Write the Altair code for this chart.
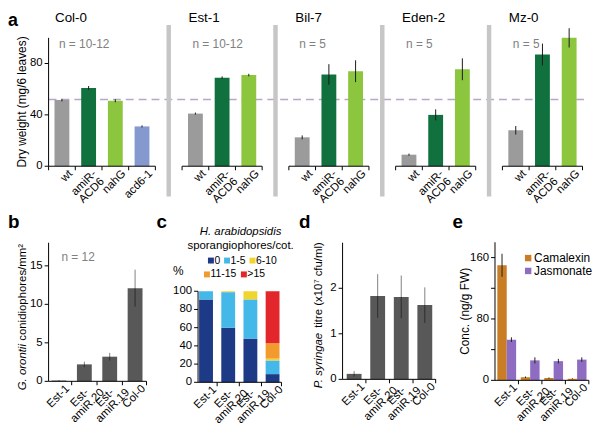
import altair as alt
import pandas as pd
import numpy as np

FONT = "Liberation Sans"

# ----------------------------------------------------------------- data
a_groups = ["Col-0", "Est-1", "Bil-7", "Eden-2", "Mz-0"]
a_sample_sizes = ["n = 10-12", "n = 10-12", "n = 5", "n = 5", "n = 5"]
a_genotypes = [
    ["wt", "amiR-ACD6", "nahG", "acd6-1"],
    ["wt", "amiR-ACD6", "nahG"],
    ["wt", "amiR-ACD6", "nahG"],
    ["wt", "amiR-ACD6", "nahG"],
    ["wt", "amiR-ACD6", "nahG"],
]
a_dry_weight = [[51.5, 61, 51, 31], [41, 69, 71], [22.5, 71.5, 74], [9, 40, 75.5], [28, 87, 100]]
a_dry_weight_err = [[1, 1.5, 1.2, 0.8], [0.8, 1, 1], [1.5, 8, 8.5], [0.8, 4.3, 8.5], [3.3, 8.5, 7.5]]
a_reference = 52
a_y_ticks = [0, 40, 80]

lines = ["Est-1", "Est-\namiR.20", "Est-\namiR.19", "Col-0"]

b_conidiophores = [0.1, 2.2, 3.2, 12.1]
b_conidiophores_err = [0.06, 0.35, 0.5, 2.4]
b_y_ticks = [0, 5, 10, 15]
b_n = "n = 12"

c_bins = ["0", "1-5", "6-10", "11-15", ">15"]
c_percent = [[91, 9, 0, 0, 0], [60, 39, 1, 0, 0], [48, 43, 9, 0, 0], [9, 15, 2, 17, 57]]
c_y_ticks = [0, 20, 40, 60, 80, 100]

d_titre = [0.12, 1.83, 1.81, 1.63]
d_titre_err = [0.06, 0.48, 0.47, 0.39]
d_y_ticks = [0, 1, 2]

e_series = ["Camalexin", "Jasmonate"]
e_camalexin = [150, 4, 3, 2]
e_camalexin_err = [15, 1, 0.8, 0.6]
e_jasmonate = [53, 26, 25, 27]
e_jasmonate_err = [3, 4, 3, 3]
e_y_ticks = [0, 40, 80, 120, 160]
e_y_labels = [0, 80, 160]

# ----------------------------------------------------------------- styles
A_COLOR_DOMAIN = ["wt", "amiR-ACD6", "nahG", "acd6-1"]
A_COLORS = ["#9b9b9b", "#10703e", "#8cc63f", "#8599cf"]
C_COLORS = ["#1d3a86", "#45b8ea", "#f2d52c", "#f39a2f", "#e2262b"]
E_COLORS = ["#c97d24", "#8d6cc1"]
DARK_BAR = "#585858"
SEP_GRAY = "#c6c6c6"
NOTE_GRAY = "#808080"
REF_COLOR = "#b9a6cb"


def scale(domain, rng):
    return alt.Scale(domain=domain, range=rng, nice=False, zero=False)


# panel geometry (canvas pixels)
A_X = scale([-0.5, 19.5], [36, 585.4])
A_Y = scale([0, 100], [157.7, 28])
B_X = scale([-0.41, 3.5], [36, 146.2])
B_Y = scale([0, 18], [375, 235])
C_X = scale([-0.36, 3.5], [187, 283.5])
C_Y = scale([0, 100], [376, 284])
D_X = scale([-0.49, 3.5], [333, 438])
D_Y = scale([0, 3], [373, 235])
E_X = scale([-0.5, 3.5], [487, 591.8])
E_Y = scale([0, 180], [374, 234.5])


def X(f, s):
    return alt.X(f, scale=s, axis=None)


def Y(f, s):
    return alt.Y(f, scale=s, axis=None)


def note(text, x, y, **style):
    style.setdefault("color", "black")
    return alt.Chart(pd.DataFrame({"t": [text]})).mark_text(font=FONT, **style).encode(
        x=alt.value(x), y=alt.value(y), text="t:N")


def baseline(x0, x1, xs, ys):
    df = pd.DataFrame({"x0": x0, "x1": x1, "base": 0})
    return alt.Chart(df).mark_rule(color="black", strokeWidth=1).encode(
        x=X("x0:Q", xs), x2="x1:Q", y=Y("base:Q", ys))


def ticks(pos, xs, ys):
    df = pd.DataFrame({"x": pos, "base": 0})
    return alt.Chart(df).mark_tick(orient="vertical", size=4, thickness=1, yOffset=2,
                                   color="black", opacity=1).encode(
        x=X("x:Q", xs), y=Y("base:Q", ys))


def xlabels(df, field, xs, ys):
    multi_mask = df["label"].str.contains("\n")
    single, multi = df[~multi_mask], df[multi_mask]
    out = []
    if len(single):
        out.append(alt.Chart(single).mark_text(
            angle=315, align="right", baseline="middle", font=FONT, fontSize=11.5,
            color="black", xOffset=9, yOffset=6).encode(
            x=X(field, xs), y=Y("base:Q", ys), text="label:N"))
    if len(multi):
        out.append(alt.Chart(multi).mark_text(
            angle=315, align="center", baseline="middle", lineBreak="\n", lineHeight=11,
            font=FONT, fontSize=11.5, color="black", xOffset=-4.5, yOffset=17).encode(
            x=X(field, xs), y=Y("base:Q", ys), text="label:N"))
    return out


def yaxis(tick_values, label_values, x_at, top, xs, ys):
    dom = pd.DataFrame({"x": [x_at], "y0": [0], "y1": [top]})
    tk = pd.DataFrame({"x": x_at, "v": tick_values})
    lb = pd.DataFrame({"x": x_at, "v": label_values, "t": [str(v) for v in label_values]})
    return [
        alt.Chart(dom).mark_rule(color="black", strokeWidth=1).encode(
            x=X("x:Q", xs), y=Y("y0:Q", ys), y2="y1:Q"),
        alt.Chart(tk).mark_tick(orient="horizontal", size=4, thickness=1, xOffset=-2,
                                color="black", opacity=1).encode(
            x=X("x:Q", xs), y=Y("v:Q", ys)),
        alt.Chart(lb).mark_text(align="right", baseline="middle", font=FONT, fontSize=11.5,
                                color="black", xOffset=-6).encode(
            x=X("x:Q", xs), y=Y("v:Q", ys), text="t:N"),
    ]


# ----------------------------------------------------------------- panel a
rows, seps, groups, tick_pos = [], [], [], []
slot = 0
for gi, (g, n, gens, vals, errs) in enumerate(
        zip(a_groups, a_sample_sizes, a_genotypes, a_dry_weight, a_dry_weight_err)):
    if gi:
        seps.append(slot)
        slot += 1
    first = slot
    for gen, v, e in zip(gens, vals, errs):
        rows.append({"genotype": gen, "label": gen.replace("-ACD6", "-\nACD6"), "slot": slot,
                     "value": v, "lo": v - e, "hi": v + e, "base": 0})
        slot += 1
    groups.append({"group": g, "n": n, "first": first, "x0": first - 0.5, "x1": slot - 0.5})
    tick_pos += [first - 0.5 + k for k in range(slot - first + 1)]
a_df = pd.DataFrame(rows)
a_grp = pd.DataFrame(groups)

panel_a = alt.layer(
    alt.Chart(pd.DataFrame({"x0": [-0.5], "x1": [19.7], "y": [a_reference]})).mark_rule(
        color=REF_COLOR, strokeWidth=1.5, strokeDash=[8, 5]).encode(
        x=X("x0:Q", A_X), x2="x1:Q", y=Y("y:Q", A_Y)),
    alt.Chart(a_df).mark_bar(width=15, orient="vertical").encode(
        x=X("slot:Q", A_X), y=Y("value:Q", A_Y), y2="base:Q",
        color=alt.Color("genotype:N", scale=alt.Scale(domain=A_COLOR_DOMAIN, range=A_COLORS),
                        legend=None)),
    alt.Chart(a_df).mark_rule(color="#1a1a1a", strokeWidth=1).encode(
        x=X("slot:Q", A_X), y=Y("lo:Q", A_Y), y2="hi:Q"),
    alt.Chart(pd.DataFrame({"slot": seps, "top": 110, "bottom": -23.5})).mark_rule(
        color=SEP_GRAY, strokeWidth=4.5).encode(
        x=X("slot:Q", A_X), y=Y("top:Q", A_Y), y2="bottom:Q"),
    baseline(a_grp["x0"], a_grp["x1"], A_X, A_Y),
    ticks(tick_pos, A_X, A_Y),
    *xlabels(a_df, "slot:Q", A_X, A_Y),
    *yaxis(a_y_ticks, a_y_ticks, -0.5, 100, A_X, A_Y),
    alt.Chart(a_grp).mark_text(align="left", baseline="middle", font=FONT, fontSize=13.5,
                               color="black", dx=-7).encode(
        x=X("first:Q", A_X), y=alt.value(7.5), text="group:N"),
    alt.Chart(a_grp).mark_text(align="left", baseline="middle", font=FONT, fontSize=12,
                               color=NOTE_GRAY, dx=-3).encode(
        x=X("first:Q", A_X), y=alt.value(34), text="n:N"),
)


# ----------------------------------------------------------------- panels b, d
def simple_panel(values, errs, xs, ys, y_ticks, x0, x1, top):
    df = pd.DataFrame({"idx": range(len(lines)), "label": lines, "value": values,
                       "lo": np.array(values) - np.array(errs),
                       "hi": np.array(values) + np.array(errs), "base": 0})
    return alt.layer(
        alt.Chart(df).mark_bar(width=15, orient="vertical", color=DARK_BAR).encode(
            x=X("idx:Q", xs), y=Y("value:Q", ys), y2="base:Q"),
        alt.Chart(df).mark_rule(color="black", strokeWidth=1, opacity=0.5).encode(
            x=X("idx:Q", xs), y=Y("lo:Q", ys), y2="hi:Q"),
        baseline([x0], [x1], xs, ys),
        ticks([0.5, 1.5, 2.5, x1], xs, ys),
        *xlabels(df, "idx:Q", xs, ys),
        *yaxis(y_ticks, y_ticks, x0, top, xs, ys),
    )


panel_b = simple_panel(b_conidiophores, b_conidiophores_err, B_X, B_Y, b_y_ticks, -0.41, 3.45, 18)
panel_d = simple_panel(d_titre, d_titre_err, D_X, D_Y, d_y_ticks, -0.49, 3.46, 3)

# ----------------------------------------------------------------- panel c
c_rows = []
for i, (lab, pcts) in enumerate(zip(lines, c_percent)):
    acc = 0
    for b, p in zip(c_bins, pcts):
        c_rows.append({"idx": i, "bin": b, "lo": acc, "hi": acc + p})
        acc += p
c_df = pd.DataFrame(c_rows)
c_lab = pd.DataFrame({"idx": range(len(lines)), "label": lines, "base": 0})
c_color = alt.Scale(domain=c_bins, range=C_COLORS)

c_leg = pd.DataFrame({"bin": c_bins,
                      "sx": [205, 221.3, 247, 201, 238.3],
                      "tx": [208.5, 224.8, 250.5, 204.5, 241.8],
                      "yy": [253, 253, 253, 267, 267]})

panel_c = alt.layer(
    alt.Chart(c_df).mark_bar(width=14, orient="vertical").encode(
        x=X("idx:Q", C_X), y=Y("hi:Q", C_Y), y2="lo:Q",
        color=alt.Color("bin:N", scale=c_color, legend=None)),
    baseline([-0.36], [3.4], C_X, C_Y),
    ticks([0.5, 1.5, 2.5, 3.4], C_X, C_Y),
    *xlabels(c_lab, "idx:Q", C_X, C_Y),
    *yaxis(c_y_ticks, c_y_ticks, -0.36, 100, C_X, C_Y),
    alt.Chart(c_leg).mark_square(size=36, opacity=1).encode(
        x=alt.X("sx:Q", scale=None, axis=None), y=alt.Y("yy:Q", scale=None, axis=None),
        color=alt.Color("bin:N", scale=c_color, legend=None)),
    alt.Chart(c_leg).mark_text(align="left", baseline="middle", font=FONT, fontSize=10.5,
                               color="black").encode(
        x=alt.X("tx:Q", scale=None, axis=None), y=alt.Y("yy:Q", scale=None, axis=None),
        text="bin:N"),
)

# ----------------------------------------------------------------- panel e
e_rows = []
for i in range(len(lines)):
    e_rows.append({"idx": i, "series": "Camalexin", "value": e_camalexin[i],
                   "lo": e_camalexin[i] - e_camalexin_err[i],
                   "hi": e_camalexin[i] + e_camalexin_err[i], "base": 0})
    e_rows.append({"idx": i, "series": "Jasmonate", "value": e_jasmonate[i],
                   "lo": e_jasmonate[i] - e_jasmonate_err[i],
                   "hi": e_jasmonate[i] + e_jasmonate_err[i], "base": 0})
e_df = pd.DataFrame(e_rows)
e_lab = pd.DataFrame({"idx": range(len(lines)), "label": lines, "base": 0})
e_color = alt.Scale(domain=e_series, range=E_COLORS)


def e_series_layers(name, off):
    sub = e_df[e_df["series"] == name]
    return [
        alt.Chart(sub).mark_bar(width=9.5, orient="vertical", xOffset=off).encode(
            x=X("idx:Q", E_X), y=Y("value:Q", E_Y), y2="base:Q",
            color=alt.Color("series:N", scale=e_color, legend=None)),
        alt.Chart(sub).mark_rule(color="#222222", strokeWidth=1, xOffset=off).encode(
            x=X("idx:Q", E_X), y=Y("lo:Q", E_Y), y2="hi:Q"),
    ]


e_leg = pd.DataFrame({"series": e_series, "sx": [525.5, 525.5], "tx": [531.5, 531.5],
                      "yy": [250.5, 263.5]})

panel_e = alt.layer(
    *e_series_layers("Camalexin", -4.75),
    *e_series_layers("Jasmonate", 4.75),
    baseline([-0.5], [3.5], E_X, E_Y),
    ticks([0.5, 1.5, 2.5, 3.5], E_X, E_Y),
    *xlabels(e_lab, "idx:Q", E_X, E_Y),
    *yaxis(e_y_ticks, e_y_labels, -0.5, 180, E_X, E_Y),
    alt.Chart(e_leg).mark_square(size=42, opacity=1).encode(
        x=alt.X("sx:Q", scale=None, axis=None), y=alt.Y("yy:Q", scale=None, axis=None),
        color=alt.Color("series:N", scale=e_color, legend=None)),
    alt.Chart(e_leg).mark_text(align="left", baseline="middle", font=FONT, fontSize=12,
                               color="black").encode(
        x=alt.X("tx:Q", scale=None, axis=None), y=alt.Y("yy:Q", scale=None, axis=None),
        text="series:N"),
)

# ----------------------------------------------------------------- annotations
letters = dict(fontSize=19, fontWeight="bold", align="left", baseline="alphabetic")
vtitle = dict(fontSize=11.5, angle=270, align="left", baseline="middle")
notes = [
    note("a", 0, 16.5, fontSize=18, fontWeight="bold", align="left", baseline="alphabetic"),
    note("b", 0, 220, **letters),
    note("c", 150, 220, **letters),
    note("d", 294, 220, **letters),
    note("e", 449, 220, **letters),
    note(b_n, 54, 249, fontSize=12, color=NOTE_GRAY, align="left", baseline="middle"),
    note("Dry weight (mg/6 leaves)", 14.5, 92.8, fontSize=12, angle=270, align="center",
         baseline="middle"),
    note("G. orontii", 15.5, 384, fontStyle="italic", **vtitle),
    note("conidiophores/mm\u00b2", 15.5, 334, **vtitle),
    note("%", 172, 264, fontSize=12, align="center", baseline="middle"),
    note("H. arabidopsidis", 235, 224, fontSize=11.5, fontStyle="italic", align="center",
         baseline="middle"),
    note("sporangiophores/cot.", 235, 238, fontSize=11.5, align="center", baseline="middle"),
    note("P. syringae", 314, 382, fontStyle="italic", **vtitle),
    note("titre (x10\u2077 cfu/ml)", 314, 321, **vtitle),
    note("Conc. (ng/g FW)", 462, 304.3, fontSize=12, angle=270, align="center",
         baseline="middle"),
]

chart = alt.layer(panel_a, panel_b, panel_c, panel_d, panel_e, *notes).resolve_scale(
    x="independent", y="independent", color="independent"
).properties(
    width=590, height=419, padding=0, autosize=alt.AutoSizeParams(type="none")
).configure_view(stroke=None)

chart.save("out.html", embed_options={"renderer": "svg", "actions": False})
